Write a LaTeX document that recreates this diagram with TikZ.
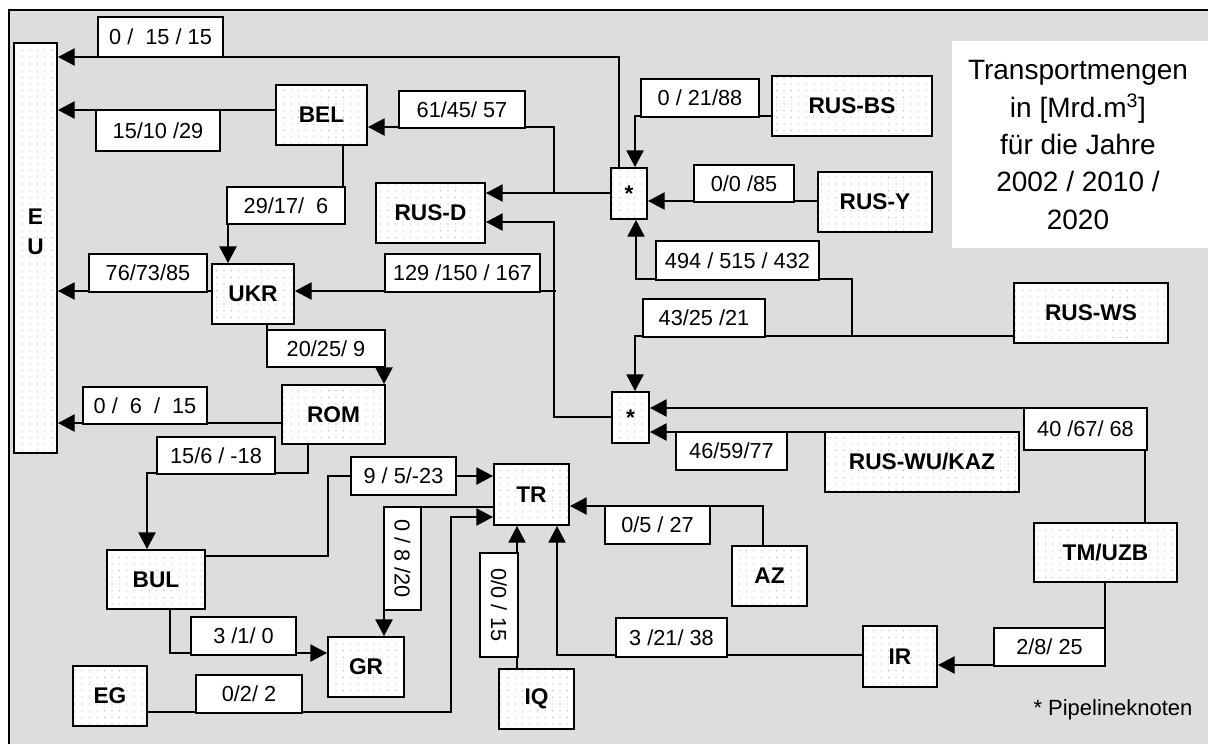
\documentclass[tikz,border=0pt]{standalone}
\usepackage{fontspec}
\setmainfont{Liberation Sans}
\usetikzlibrary{arrows.meta,patterns.meta}

\tikzdeclarepattern{
  name=nodedots,
  type=uncolored,
  bounding box={(-2.8pt,-2.5pt) and (2.8pt,2.5pt)},
  tile size={(5.6pt,5pt)},
  code={\fill (0pt,0pt) circle (0.38pt);}
}
\definecolor{bgc}{RGB}{221,221,221}
\newcommand\lblfont{\fontsize{16.3}{19}\selectfont}
\newcommand\ndfont{\fontsize{17}{22.5}\selectfont\bfseries}
\newcommand\mkbox[7]{%
  \pgfmathsetmacro\bcx{(#3+#5)/2}\pgfmathsetmacro\bcy{(#4+#6)/2}%
  \pgfmathsetmacro\bww{(#5-#3)*0.75}\pgfmathsetmacro\bhh{(#6-#4)*0.75}%
  \node[#1,minimum width=\bww pt,minimum height=\bhh pt] (#2) at (\bcx,\bcy) {#7};}

\begin{document}
\begin{tikzpicture}[x=0.75pt,y=-0.75pt,
  gbox/.style={draw,line width=1.5pt,inner sep=0pt,preaction={fill=white},pattern=nodedots,pattern color=black!40,font=\ndfont},
  lbl/.style={draw,line width=1.4pt,fill=white,inner sep=0pt,font=\lblfont},
  conn/.style={line width=1pt,-{Triangle[length=12.5pt,width=13pt]}}]
\useasboundingbox (0,0) rectangle (1208,744);
% background frame
\fill[bgc] (9,10) rectangle (1208,744);
\draw[line width=1.5pt] (9,744) -- (9,10) -- (1208,10);
% title box
\fill[white] (952,41) rectangle (1208,248);
\node[align=center,font=\fontsize{21}{28}\selectfont] (title) at (1078,145)
  {Transportmengen\\in [Mrd.m\textsuperscript{3}]\\für die Jahre\\2002 / 2010 /\\2020};
\node[font=\fontsize{16.5}{19}\selectfont] (legend) at (1113,710) {* Pipelineknoten};

% country nodes
\mkbox{gbox}{EU}{14}{43}{57}{453}{}
\node[font=\ndfont,align=center] (EUt) at (35.5,232) {E\\U};
\mkbox{gbox}{BEL}{276}{85}{367}{145}{BEL}
\mkbox{gbox}{RUSD}{376}{183}{485}{243}{RUS-D}
\mkbox{gbox}{S1}{611}{168}{647}{219}{*}
\mkbox{gbox}{RUSBS}{772}{76}{932}{136}{RUS-BS}
\mkbox{gbox}{RUSY}{818}{172}{932}{232}{RUS-Y}
\mkbox{gbox}{UKR}{212}{264}{294}{324}{UKR}
\mkbox{gbox}{ROM}{282}{385}{385}{444}{ROM}
\mkbox{gbox}{RUSWS}{1014}{283}{1168}{343}{RUS-WS}
\mkbox{gbox}{S2}{612}{392}{649}{443}{*}
\mkbox{gbox}{RUSWU}{825}{432}{1019}{492}{RUS-WU/KAZ}
\mkbox{gbox}{TR}{494}{464}{569}{525}{TR}
\mkbox{gbox}{BUL}{107}{550}{205}{609}{BUL}
\mkbox{gbox}{GR}{328}{637}{404}{697}{GR}
\mkbox{gbox}{EG}{73}{666}{147}{726}{EG}
\mkbox{gbox}{IQ}{499}{669}{574}{729}{IQ}
\mkbox{gbox}{AZ}{732}{546}{807}{606}{AZ}
\mkbox{gbox}{IR}{863}{626}{937}{687}{IR}
\mkbox{gbox}{TMUZB}{1034}{523}{1177}{582}{TM/UZB}

% connectors
\coordinate (J1) at (554,193);
\coordinate (J2) at (852,336);
\coordinate (J3) at (554,417);
\coordinate (J4) at (556,291);
\draw[conn] (S1.north -| 619,0) |- (EU.east |- 0,57);
\draw[conn] (BEL.west |- 0,110) -- (EU.east |- 0,110);
\draw[conn] (S1.west |- J1) -- (RUSD.east |- J1);
\draw[conn] (J1) |- (BEL.east |- 0,127);
\draw[conn] (RUSBS.west |- 0,116) -| (S1.north -| 635,0);
\draw[conn] (RUSY.west |- 0,201) -- (S1.east |- 0,201);
\draw[conn] (RUSWS.west |- J2) -| (S2.north -| 635,0);
\draw[conn] (J2) -- (J2 |- 0,279) -| (S1.south -| 636,0);
\draw[conn] (S2.west |- J3) -- (J3) |- (RUSD.east |- 0,222);
\draw[conn] (J4) -- (UKR.east |- J4);
\draw[conn] (UKR.west |- 0,291) -- (EU.east |- 0,291);
\draw[conn] (BEL.south -| 343,0) -- (343,224) -| (UKR.north -| 228,0);
\draw[conn] (UKR.south -| 267,0) -- (267,367) -| (ROM.north -| 384,0);
\draw[conn] (ROM.west |- 0,423) -- (EU.east |- 0,423);
\draw[conn] (ROM.south -| 308,0) -- (308,473) -| (BUL.north -| 147,0);
\draw[conn] (BUL.east |- 0,556) -| (328,476) -- (TR.west |- 0,476);
\draw[conn] (TR.west |- 0,507) -| (GR.north -| 384,0);
\draw[conn] (BUL.south -| 170,0) |- (GR.west |- 0,653);
\draw[conn] (EG.east |- 0,712) -| (451,517) -- (TR.west |- 0,517);
\draw[conn] (IQ.north -| 517,0) -- (TR.south -| 517,0);
\draw[conn] (IR.west |- 0,655) -| (TR.south -| 557,0);
\draw[conn] (AZ.north -| 763,0) |- (TR.east |- 0,506);
\draw[conn] (TMUZB.south -| 1105,0) |- (IR.east |- 0,665);
\draw[conn] (TMUZB.north -| 1145,0) |- (S2.east |- 0,408);
\draw[conn] (RUSWU.west |- 0,432) -- (S2.east |- 0,432);

% flow labels
\mkbox{lbl}{L1}{98}{17}{223}{57}{0 / \ 15 / 15}
\mkbox{lbl}{L2}{96}{110}{220}{151}{15/10 /29}
\mkbox{lbl}{L3}{399}{91}{525}{128}{61/45/ 57}
\mkbox{lbl}{L4}{641}{79}{759}{117}{0 / 21/88}
\mkbox{lbl}{L5}{694}{165}{794}{202}{0/0 /85}
\mkbox{lbl}{L6}{227}{187}{345}{224}{29/17/ \ 6}
\mkbox{lbl}{L7}{656}{241}{819}{280}{494 / 515 / 432}
\mkbox{lbl}{L8}{385}{254}{540}{292}{129 /150 / 167}
\mkbox{lbl}{L9}{89}{254}{207}{292}{76/73/85}
\mkbox{lbl}{L10}{267}{330}{385}{367}{20/25/ 9}
\mkbox{lbl}{L11}{643}{299}{765}{337}{43/25 /21}
\mkbox{lbl}{L12}{83}{387}{207}{424}{0 / \ 6 \ / \ 15}
\mkbox{lbl}{L13}{1024}{408}{1147}{450}{40 /67/ 68}
\mkbox{lbl}{L14}{676}{432}{787}{470}{46/59/77}
\mkbox{lbl}{L15}{157}{437}{275}{474}{15/6 / -18}
\mkbox{lbl}{L16}{351}{457}{456}{495}{9 / 5/-23}
\mkbox{lbl}{L17}{605}{506}{710}{544}{0/5 / 27}
\mkbox{lbl}{L18}{384}{507}{421}{610}{}
\node[font=\lblfont,rotate=-90] (L18t) at (L18.center) {0 / 8 /20};
\mkbox{lbl}{L19}{480}{553}{518}{657}{}
\node[font=\lblfont,rotate=-90] (L19t) at (L19.center) {0/0 / 15};
\mkbox{lbl}{L20}{191}{617}{296}{655}{3 /1/ 0}
\mkbox{lbl}{L21}{616}{618}{727}{657}{3 /21/ 38}
\mkbox{lbl}{L22}{994}{628}{1105}{666}{2/8/ 25}
\mkbox{lbl}{L23}{196}{675}{302}{713}{0/2/ 2}
\end{tikzpicture}
\end{document}
